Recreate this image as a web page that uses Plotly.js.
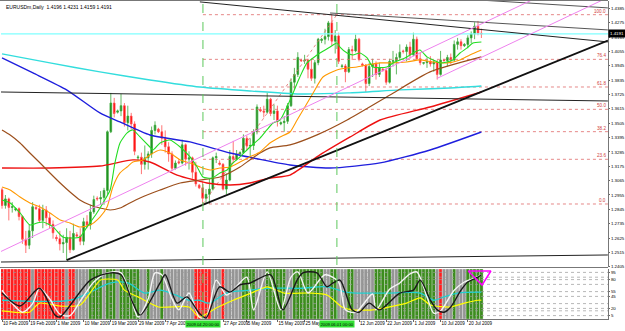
<!DOCTYPE html>
<html><head><meta charset="utf-8">
<script src="https://cdn.plot.ly/plotly-3.0.1.min.js"></script>
<style>html,body{margin:0;padding:0;background:#fff}#c{width:625px;height:331px}</style>
</head><body><div id="c"></div>
<script>
// ---- Price bars (EURUSDm, Daily), bar index 0 = 10 Feb 2009 ... 141 = 24 Jul 2009
const barIdx = Array.from({length:142}, (_, i) => i);
const openP = [1.2995,1.2875,1.2925,1.2860,1.2840,1.2850,1.2790,1.2615,1.2570,1.2680,1.2860,1.2850,1.2760,1.2840,1.2780,1.2730,1.2630,1.2620,1.2580,1.2590,
1.2630,1.2535,1.2650,1.2640,1.2600,1.2750,1.2725,1.2825,1.2930,1.2925,1.2935,1.2990,1.3440,1.3660,1.3590,1.3600,1.3640,1.3510,1.3560,1.3500,
1.3240,1.3245,1.3190,1.3240,1.3270,1.3450,1.3460,1.3440,1.3390,1.3325,1.3270,1.3160,1.3210,1.3200,1.3340,1.3230,1.3240,1.3130,1.3030,1.3010,
1.2930,1.2960,1.3000,1.3240,1.3200,1.3190,1.3000,1.3070,1.3250,1.3230,1.3270,1.3280,1.3390,1.3330,1.3335,1.3440,1.3610,1.3600,1.3590,1.3690,
1.3580,1.3600,1.3500,1.3510,1.3520,1.3640,1.3820,1.3880,1.3990,1.3985,1.3990,1.3920,1.3850,1.3970,1.4140,1.4150,1.4170,1.4275,1.4135,1.4175,
1.3940,1.3945,1.3900,1.4070,1.4060,1.4150,1.3960,1.3950,1.3810,1.3940,1.3960,1.3880,1.3920,1.3910,1.3820,1.3980,1.3985,1.4010,1.4060,1.4055,
1.4090,1.4030,1.4150,1.4000,1.3965,1.3970,1.3980,1.3960,1.3975,1.3880,1.3990,1.3985,1.4010,1.3990,1.4110,1.4130,1.4100,1.4110,1.4160,1.4190,
1.4250,1.4196];
const highP = [1.3010,1.2955,1.2935,1.2900,1.2860,1.2860,1.2800,1.2680,1.2730,1.2900,1.2875,1.2880,1.2880,1.2870,1.2820,1.2760,1.2650,1.2680,1.2650,1.2700,
1.2680,1.2735,1.2670,1.2700,1.2780,1.2800,1.2880,1.2950,1.2945,1.2985,1.3010,1.3450,1.3738,1.3700,1.3610,1.3730,1.3660,1.3640,1.3585,1.3520,
1.3260,1.3280,1.3335,1.3290,1.3480,1.3520,1.3470,1.3490,1.3450,1.3360,1.3290,1.3220,1.3230,1.3380,1.3350,1.3290,1.3250,1.3210,1.3040,1.3060,
1.3000,1.3080,1.3250,1.3280,1.3220,1.3200,1.3120,1.3300,1.3370,1.3300,1.3290,1.3420,1.3410,1.3390,1.3460,1.3650,1.3630,1.3640,1.3740,1.3700,
1.3650,1.3640,1.3520,1.3560,1.3660,1.3850,1.3930,1.4050,1.4000,1.4030,1.4000,1.4000,1.3990,1.4160,1.4160,1.4230,1.4290,1.4338,1.4220,1.4200,
1.3960,1.3960,1.4090,1.4100,1.4185,1.4160,1.3970,1.3960,1.3970,1.4000,1.3980,1.3970,1.3930,1.3930,1.4000,1.4060,1.4040,1.4110,1.4070,1.4110,
1.4130,1.4200,1.4170,1.4050,1.3975,1.4010,1.4020,1.3990,1.3990,1.4060,1.4000,1.4030,1.4040,1.4140,1.4160,1.4150,1.4120,1.4180,1.4210,1.4280,
1.4290,1.4231];
const lowP = [1.2850,1.2850,1.2760,1.2820,1.2830,1.2760,1.2580,1.2510,1.2540,1.2625,1.2840,1.2740,1.2700,1.2720,1.2700,1.2620,1.2600,1.2530,1.2510,1.2456,
1.2510,1.2530,1.2630,1.2570,1.2570,1.2700,1.2690,1.2810,1.2910,1.2880,1.2880,1.2955,1.3430,1.3550,1.3580,1.3560,1.3480,1.3450,1.3460,1.3260,
1.3220,1.3115,1.3150,1.3150,1.3240,1.3420,1.3430,1.3340,1.3280,1.3210,1.3140,1.3150,1.3190,1.3190,1.3180,1.3150,1.3080,1.3020,1.3000,1.2890,
1.2890,1.2886,1.2990,1.3200,1.3180,1.2990,1.2960,1.3060,1.3200,1.3220,1.3255,1.3270,1.3300,1.3250,1.3300,1.3420,1.3590,1.3550,1.3580,1.3560,
1.3530,1.3480,1.3490,1.3440,1.3500,1.3630,1.3760,1.3860,1.3975,1.3960,1.3850,1.3830,1.3810,1.3950,1.4120,1.4110,1.4140,1.4100,1.4040,1.3960,
1.3930,1.3820,1.3890,1.3990,1.4050,1.3980,1.3940,1.3745,1.3790,1.3860,1.3840,1.3860,1.3900,1.3800,1.3810,1.3940,1.3880,1.3990,1.4040,1.3980,
1.4000,1.4020,1.3990,1.3950,1.3955,1.3930,1.3940,1.3900,1.3840,1.3870,1.3980,1.3940,1.3960,1.3980,1.4070,1.4070,1.4090,1.4080,1.4120,1.4150,
1.4180,1.4159];
const closeP = [1.2875,1.2925,1.2860,1.2865,1.2850,1.2790,1.2615,1.2570,1.2680,1.2865,1.2850,1.2760,1.2840,1.2780,1.2730,1.2665,1.2620,1.2580,1.2590,1.2630,
1.2535,1.2660,1.2640,1.2600,1.2750,1.2725,1.2825,1.2920,1.2925,1.2935,1.2990,1.3440,1.3660,1.3580,1.3600,1.3640,1.3510,1.3560,1.3500,1.3290,
1.3245,1.3190,1.3240,1.3270,1.3450,1.3490,1.3440,1.3390,1.3325,1.3270,1.3160,1.3200,1.3200,1.3340,1.3230,1.3240,1.3130,1.3040,1.3010,1.2930,
1.2960,1.3000,1.3240,1.3250,1.3190,1.3000,1.3070,1.3250,1.3230,1.3270,1.3280,1.3390,1.3330,1.3335,1.3440,1.3630,1.3600,1.3590,1.3690,1.3580,
1.3600,1.3520,1.3510,1.3520,1.3640,1.3820,1.3880,1.4010,1.3985,1.3990,1.3920,1.3850,1.3970,1.4150,1.4150,1.4170,1.4275,1.4135,1.4175,1.3980,
1.3945,1.3900,1.4070,1.4060,1.4150,1.3995,1.3950,1.3810,1.3940,1.3960,1.3880,1.3930,1.3910,1.3820,1.3980,1.3985,1.4010,1.4050,1.4055,1.4090,
1.4030,1.4150,1.4000,1.3970,1.3970,1.3980,1.3960,1.3975,1.3880,1.3990,1.3985,1.4010,1.3990,1.4110,1.4130,1.4100,1.4110,1.4160,1.4190,1.4250,
1.4196,1.4191];

// ---- Moving averages (bar index, price)
const maGreenX = [0,2.4,5.3,8.2,10.3,12.1,15,17.9,20,22.9,25,27.9,29.7,31.8,33.2,34.7,36.8,38.5,40.6,43.5,44.4,46.5,49.4,52.4,55.3,57.4,59.1,61.8,64.1,66.2,67.9,70,72.9,75.9,77.9,79.7,81.8,83.8,85.6,87.6,89.7,91.5,93.5,96.5,98.5,99.4,101.5,103.2,105.3,107.4,109.1,113.2,115,117.1,119.1,120.9,122.9,125,126.8,128.8,130.9,132.6,134.7,136.8,138.5,141];
const maGreenY = [1.2917,1.2894,1.2817,1.2725,1.2740,1.2748,1.2710,1.2633,1.2625,1.2633,1.2710,1.2817,1.2894,1.2993,1.3200,1.3354,1.3431,1.3454,1.3400,1.3323,1.3300,1.3354,1.3377,1.3323,1.3247,1.3170,1.3093,1.3085,1.3124,1.3147,1.3200,1.3247,1.3323,1.3392,1.3454,1.3507,1.3530,1.3630,1.3737,1.3860,1.3968,1.4006,1.4044,1.4090,1.4121,1.4090,1.4044,1.4029,1.4044,1.4006,1.3937,1.3937,1.3968,1.3991,1.4014,1.4044,1.4067,1.4014,1.3991,1.3968,1.3975,1.3991,1.4044,1.4083,1.4121,1.4129];
const maOrangeX = [0,2.4,5.3,8.2,11.2,14.1,17.1,20,22.9,25.9,28.8,30.9,32.6,34.7,36.8,38.5,41.5,43.5,46.5,49.4,52.4,55.3,58.2,61.2,64.1,67.1,70,72.9,75.9,78.8,81.8,84.7,86.8,91.5,94.4,98.5,101.5,104.4,107.4,111.2,115,119.1,122.9,126.8,130.9,134.7,137.6,141];
const maOrangeY = [1.3016,1.2993,1.2940,1.2894,1.2863,1.2817,1.2763,1.2740,1.2710,1.2725,1.2786,1.2863,1.3016,1.3124,1.3170,1.3208,1.3224,1.3262,1.3300,1.3277,1.3224,1.3200,1.3170,1.3147,1.3162,1.3170,1.3208,1.3247,1.3285,1.3354,1.3400,1.3438,1.3530,1.3737,1.3860,1.3914,1.3929,1.3937,1.3952,1.3968,1.3968,1.3975,1.3991,1.3975,1.3968,1.3991,1.4029,1.4067];
const maBrownX = [0,2.4,5.3,8.2,11.2,14.1,17.1,20,22.9,25.9,28.8,31.8,34.7,37.6,40.6,46.5,52.4,58.2,64.1,70,72.9,75.9,78.8,84.7,93,101.5,114.1,125.9,141];
const maBrownY = [1.3454,1.3415,1.3354,1.3277,1.3200,1.3124,1.3047,1.2978,1.2917,1.2878,1.2855,1.2840,1.2855,1.2894,1.2932,1.2993,1.3047,1.3070,1.3093,1.3170,1.3224,1.3277,1.3316,1.3339,1.3420,1.3530,1.3722,1.3899,1.4014];
const maRedX = [0,14.1,28.8,38.5,43.5,51.5,60.3,67.1,72.9,78.8,84.7,93.5,102.4,111.2,125.9,141];
const maRedY = [1.3162,1.3162,1.3177,1.3224,1.3208,1.3108,1.3047,1.3032,1.3047,1.3085,1.3108,1.3262,1.3400,1.3530,1.3630,1.3745];
const maBlueX = [0,9.1,19.1,28.8,34.7,43.5,55.3,67.1,84.7,96.5,111.2,125.9,141];
const maBlueY = [1.4006,1.3891,1.3760,1.3584,1.3515,1.3415,1.3362,1.3277,1.3185,1.3162,1.3201,1.3300,1.3438];
const maCyanX = [0,14.1,28.8,43.5,58.2,72.9,87.6,101.8,117.1,131.8,141];
const maCyanY = [1.4037,1.3968,1.3899,1.3837,1.3783,1.3753,1.3730,1.3738,1.3761,1.3776,1.3791];

// ---- Drawn objects (bar index, price)
const lineA_X = [58.2,178.2], lineA_Y = [1.4436,1.4129];
const lineB_X = [96.5,178.2], lineB_Y = [1.4351,1.4221];
const lineC_X = [140,178.2], lineC_Y = [1.4451,1.4390];
const lineD_X = [-0.3,178.2], lineD_Y = [1.3745,1.3676];
const lineE_X = [-0.3,178.2], lineE_Y = [1.2441,1.2495];
const trendF_X = [19,178.2], trendF_Y = [1.2456,1.4140];
const pink1_X = [-0.3,155.9], pink1_Y = [1.2522,1.4451];
const pink2_X = [128,178.2], pink2_Y = [1.3850,1.4470];
const fibFrom = [59.1,1.2886], fibTo = [98.5,1.4338];
const fibLevels = [0,23.6,38.2,50,61.8,76.4,100];
const fibText = ['0.0','23.6','38.2','50.0','61.8','76.4','100.0'];
const vLineIdx = [59.1,98.5];
const vLineText = ['2009.04.20 00:00','2009.06.01 00:00'];
const bidPrice = 1.4191;

// ---- Axis tick labels
const priceTicks = [1.2405,1.2515,1.2625,1.2735,1.2845,1.2955,1.3065,1.3175,1.3285,1.3395,1.3505,1.3615,1.3725,1.3835,1.3945,1.4055,1.4165,1.4275,1.4385];
const dateTickIdx = [0,8,16,24,32,40,48,65,72,81,89,105,113,121,129,137];
const dateTickText = ['10 Feb 2009','19 Feb 2009','1 Mar 2009','10 Mar 2009','19 Mar 2009','29 Mar 2009','7 Apr 2009','27 Apr 2009','5 May 2009','15 May 2009','25 May 2009','12 Jun 2009','22 Jun 2009','1 Jul 2009','10 Jul 2009','20 Jul 2009'];

// ---- Lower indicator window
const bgState = ['rrrrrrrrr','n','rrrrrrrrr','n','rr','nnnn','gggg','n','ggg','n','gggggg','nn','g','nnn','g','nnnnnnnnn','rrrrr','nnn','r','nnnnn','gggg','nnn','gggggg','nn','ggggggggg','nn','gg','nnn','gg','nnnnnn','ggggg','nn','ggggggggggg','n','r','nnn','g','nnn','ggggg'].join('').split('');
const oscLevels = [5,15,20,30,45,55,70,80,85,95];
const oscTicks = [5,20,45,55,80,95];
const blackOscX = [0,5.3,11,15.6,17,26,32,35,38.5,40.6,46.5,48,51.5,54.4,58,60,64,67,70,73,79,82.6,86.8,88.5,92.6,95.6,97.4,99.4,103,105,108,111,117,121,123,126,128,130,132,135,137,140,141];
const blackOscY = [52,25,62,6,2,79,94,90,31,6,73,90,31,44,10,0,65,54,69,73,90,17,79,94,94,65,73,79,17,12,31,17,52,58,79,37,17,12,23,58,75,85,90];
const whiteOscX = [0,3,6,9,11,14,17,20,23,27,31,35,38,40,43,45,47,50,52,55,58,60,63,66,68,72,74,78,82,85,87,90,95,99,101,104,109,110,114,117,120,122,125,127,129,133,136,139,141];
const whiteOscY = [58,30,12,30,62,40,8,5,35,75,94,94,40,2,40,94,90,40,17,52,2,0,79,48,58,85,17,96,17,85,96,52,90,75,17,12,50,17,60,73,92,96,44,10,15,58,75,83,90];
const cyanOscX = [0,20,26,32,37,42,46.5,51,55,58,61,66,73,78,88,95.6,101,104,114,123,127,130,134,141];
const cyanOscY = [37,37,54,73,73,52,58,48,37,37,31,52,58,62,62,65,54,52,52,52,37,44,52,54];
const yellowOscX = [0,8,11,17,23,29,34,36,40,46,55,58,63,68,74,78,83,90.6,95.6,100,103,109,119,123,126,132,136,140,141];
const yellowOscY = [15,12,31,25,27,79,79,58,44,23,23,2,21,37,54,65,52,52,48,23,17,17,31,42,27,23,31,37,37];
const triX = [137.1,143.8,141.2,137.1], triV = [97.9,97.9,68.8,97.9];

const F = 'Liberation Sans, Arial, sans-serif';
const xEnd = 178.24;
function ln(x, y, color, width, dash, yaxis, smooth){ return {type:'scatter', mode:'lines', x:x, y:y, yaxis:yaxis||'y',
  line:{color:color, width:width, dash:dash||'solid', shape: smooth ? 'spline' : 'linear', smoothing: smooth||0}, hoverinfo:'skip'}; }

const traces = [];
// indicator background stripes
const stripeCol = {r:'#ff1e1e', g:'#3c8c1e', n:'#959595'};
traces.push({type:'bar', x:barIdx, y:barIdx.map(()=>104.16), base:-2.08, yaxis:'y2', width:1,
  marker:{color:bgState.map(s=>stripeCol[s]), line:{color:'rgba(255,255,255,0.5)', width:0.6}}, hoverinfo:'skip'});
oscLevels.forEach(v=> traces.push(ln([-0.3,xEnd],[v,v],'#9a9a9a',0.7,'dot','y2')));
traces.push(ln(cyanOscX, cyanOscY, '#20d0d0', 1.3, 'solid','y2',0.8));
traces.push(ln(yellowOscX, yellowOscY, '#ffff00', 1.2, 'solid','y2',0.6));
traces.push(ln(whiteOscX, whiteOscY, '#f4f4f4', 1.4, 'solid','y2',0.8));
traces.push(ln(blackOscX, blackOscY, '#1a1a1a', 1.4, 'solid','y2',0.8));
traces.push(ln(triX, triV, '#ff00ff', 1.5, 'solid','y2'));

// main: fib
fibLevels.forEach(l=>{ const p = fibFrom[1] + (fibTo[1]-fibFrom[1])*l/100; traces.push(ln([fibFrom[0],xEnd],[p,p],'#e06a6a',0.8,'dot')); });
traces.push(ln([fibFrom[0],fibTo[0]],[fibFrom[1],fibTo[1]],'#e06a6a',0.8,'dot'));
// price line (bid)
traces.push(ln([-0.3,xEnd],[bidPrice,bidPrice],'#7fffff',1.2));
// MAs
traces.push(ln(maCyanX, maCyanY, '#33dddd', 1.4, 'solid','y',0.6));
traces.push(ln(maBlueX, maBlueY, '#1f1fdd', 1.4, 'solid','y',0.6));
traces.push(ln(maRedX, maRedY, '#ee1111', 1.4, 'solid','y',0.6));
traces.push(ln(maBrownX, maBrownY, '#9c4f1c', 1.2, 'solid','y',0.6));
traces.push(ln(maOrangeX, maOrangeY, '#ff9900', 1.1, 'solid','y',0.6));
traces.push(ln(maGreenX, maGreenY, '#22dd22', 1.1, 'solid','y',0.6));
// drawn lines
traces.push(ln(lineD_X, lineD_Y, '#222', 1));
traces.push(ln(lineE_X, lineE_Y, '#222', 1));
traces.push(ln(lineA_X, lineA_Y, '#222', 1));
traces.push(ln(lineB_X, lineB_Y, '#555', 1));
traces.push(ln(lineC_X, lineC_Y, '#555', 1));
traces.push(ln(pink1_X, pink1_Y, '#ee82ee', 1));
traces.push(ln(pink2_X, pink2_Y, '#ee82ee', 1));
traces.push(ln(trendF_X, trendF_Y, '#111', 1.8));
// candles
traces.push({type:'candlestick', x:barIdx, open:openP, high:highP, low:lowP, close:closeP, yaxis:'y', whiskerwidth:0,
  increasing:{line:{color:'#3aa83a', width:0.8}, fillcolor:'#1d8a1d'},
  decreasing:{line:{color:'#ff5050', width:0.8}, fillcolor:'#ff0000'}, hoverinfo:'skip'});

const annotations = [];
annotations.push({xref:'paper', yref:'paper', x:0.006, y:0.995, xanchor:'left', yanchor:'top', showarrow:false,
  text:'EURUSDm,Daily  1.4196 1.4231 1.4159 1.4191', font:{family:F, size:5, color:'#000'}});
fibLevels.forEach((l,i)=>{ const p = fibFrom[1] + (fibTo[1]-fibFrom[1])*l/100;
  annotations.push({xref:'paper', yref:'y', x:607/625, y:p, xanchor:'right', yanchor:'bottom', showarrow:false, text:fibText[i], font:{family:F,size:4.6,color:'#d04040'}, borderpad:0});});
annotations.push({xref:'paper', yref:'y', x:608/625, y:bidPrice, xanchor:'left', yanchor:'middle', showarrow:false, text:bidPrice.toFixed(4),
  bgcolor:'#000', font:{family:F,size:4.4,color:'#fff'}, borderpad:1});
vLineIdx.forEach((v,i)=> annotations.push({xref:'x', yref:'paper', x:v, y:1-324/331, xanchor:'center', yanchor:'middle', showarrow:false,
  text:vLineText[i], bgcolor:'#33e033', font:{family:F,size:4.2,color:'#000'}, borderpad:0.5}));

const shapes = vLineIdx.map(v=>({type:'line', xref:'x', yref:'paper', x0:v, x1:v, y0:1-319/331, y1:1, line:{color:'#5cc85c', width:1, dash:'dash'}}));
shapes.push({type:'line', xref:'paper', yref:'paper', x0:0, x1:608/625, y0:1-267.5/331, y1:1-267.5/331, line:{color:'#777', width:1}});
shapes.push({type:'line', xref:'paper', yref:'paper', x0:0, x1:608/625, y0:1-0.5/331, y1:1-0.5/331, line:{color:'#777', width:1}});

const layout = {
  width:625, height:331, margin:{l:0,r:0,t:0,b:0}, paper_bgcolor:'#fff', plot_bgcolor:'#fff', showlegend:false,
  xaxis:{domain:[1/625,608/625], range:[-0.3,xEnd], anchor:'y2', showgrid:false, zeroline:false, rangeslider:{visible:false},
    tickvals:dateTickIdx, ticktext:dateTickText, tickangle:0, ticklabelposition:'outside right', ticks:'outside', ticklen:2, tickcolor:'#666',
    tickfont:{family:F,size:4.5,color:'#000'}, showline:true, linecolor:'#777', linewidth:1},
  yaxis:{domain:[1-266.7/331, 1-1/331], range:[1.2405,1.44429], side:'right', anchor:'x', showgrid:false, zeroline:false,
    tickvals:priceTicks, ticktext:priceTicks.map(v=>v.toFixed(4)), ticks:'outside', ticklen:1, tickcolor:'#666',
    tickfont:{family:F,size:4.4,color:'#000'}, showline:true, linecolor:'#777', linewidth:1},
  yaxis2:{domain:[1-319/331, 1-269/331], range:[-2.08,102.08], side:'right', anchor:'x', showgrid:false, zeroline:false,
    tickvals:oscTicks, ticktext:oscTicks.map(String), ticks:'outside', ticklen:1, tickcolor:'#666',
    tickfont:{family:F,size:4.4,color:'#000'}, showline:true, linecolor:'#777', linewidth:1},
  annotations:annotations, shapes:shapes, bargap:0
};
Plotly.newPlot('c', traces, layout, {staticPlot:true, displayModeBar:false});
</script></body></html>
